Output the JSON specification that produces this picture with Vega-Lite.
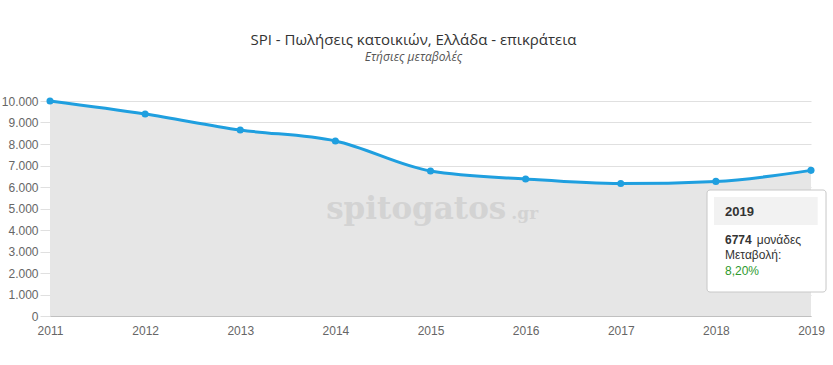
{
  "$schema": "https://vega.github.io/schema/vega-lite/v6.json",
  "width": 761,
  "height": 215,
  "autosize": {"type": "none"},
  "padding": {"left": 50, "top": 101, "right": 22, "bottom": 49},
  "background": "white",
  "config": {
    "locale": {"number": {"decimal": ",", "thousands": ".", "grouping": [3], "currency": ["", "€"]}},
    "view": {"stroke": null},
    "axis": {"labelFont": "Liberation Sans", "labelFontSize": 12, "labelColor": "#666666"}
  },
  "title": {
    "text": "SPI - Πωλήσεις κατοικιών, Ελλάδα - επικράτεια",
    "subtitle": "Ετήσιες μεταβολές",
    "font": "Open Sans",
    "fontSize": 15,
    "fontWeight": "normal",
    "color": "#333333",
    "subtitleFont": "Open Sans",
    "subtitleFontSize": 12,
    "subtitleFontStyle": "italic",
    "subtitleColor": "#555555",
    "subtitlePadding": 4,
    "anchor": "middle",
    "dx": -17,
    "offset": 32
  },
  "datasets": {
    "spi": [
      {"year": 2011, "value": 10000},
      {"year": 2012, "value": 9395},
      {"year": 2013, "value": 8651},
      {"year": 2014, "value": 8140},
      {"year": 2015, "value": 6744},
      {"year": 2016, "value": 6372},
      {"year": 2017, "value": 6160},
      {"year": 2018, "value": 6261},
      {"year": 2019, "value": 6774}
    ],
    "labels": [
      {"t": "spitogatos", "year": 2014.85, "value": 4512, "k": "wm"},
      {"t": ".gr", "year": 2015.85, "value": 4512, "k": "wm2"},
      {"t": "2019", "year": 2018.096, "value": 4837, "k": "head"},
      {"t": "6774", "year": 2018.096, "value": 3535, "k": "bold"},
      {"t": "μονάδες", "year": 2018.43, "value": 3535, "k": "norm"},
      {"t": "Μεταβολή:", "year": 2018.096, "value": 2837, "k": "norm"},
      {"t": "8,20%", "year": 2018.096, "value": 2093, "k": "green"}
    ],
    "boxes": [
      {"k": "box", "year": 2017.907, "year2": 2019.158, "value": 5860, "value2": 1116},
      {"k": "head", "year": 2017.98, "year2": 2019.07, "value": 5535, "value2": 4233}
    ]
  },
  "encoding": {
    "x": {
      "field": "year",
      "type": "quantitative",
      "scale": {"domain": [2011, 2019], "nice": false, "zero": false},
      "axis": {"values": [2011, 2012, 2013, 2014, 2015, 2016, 2017, 2018, 2019], "format": "d", "grid": false, "ticks": false, "labelPadding": 9, "domainColor": "#c0c0c0", "title": null, "labelFlush": false}
    },
    "y": {
      "field": "value",
      "type": "quantitative",
      "scale": {"domain": [0, 10000], "nice": false},
      "axis": {"values": [0, 1000, 2000, 3000, 4000, 5000, 6000, 7000, 8000, 9000, 10000], "format": ",d", "gridColor": "#e0e0e0", "tickColor": "#e0e0e0", "tickSize": 10, "labelPadding": 2, "domainColor": "#cccccc", "title": null, "labelOverlap": false}
    }
  },
  "layer": [
    {
      "data": {"name": "spi"},
      "mark": {"type": "area", "color": "#e6e6e6", "interpolate": "monotone", "opacity": 1}
    },
    {
      "data": {"name": "spi"},
      "mark": {"type": "line", "color": "#1f9fdf", "strokeWidth": 3, "interpolate": "monotone"}
    },
    {
      "data": {"name": "spi"},
      "mark": {"type": "point", "filled": true, "color": "#1f9fdf", "size": 50, "opacity": 1}
    },
    {
      "data": {"name": "labels"},
      "transform": [{"filter": "datum.k == 'wm'"}],
      "mark": {"type": "text", "font": "DejaVu Serif", "fontWeight": "bold", "fontSize": 31, "color": "#d3d3d3", "align": "center", "baseline": "alphabetic"},
      "encoding": {"text": {"field": "t"}}
    },
    {
      "data": {"name": "labels"},
      "transform": [{"filter": "datum.k == 'wm2'"}],
      "mark": {"type": "text", "font": "DejaVu Serif", "fontWeight": "bold", "fontSize": 17, "color": "#d3d3d3", "align": "left", "baseline": "alphabetic"},
      "encoding": {"text": {"field": "t"}}
    },
    {
      "data": {"name": "boxes"},
      "transform": [{"filter": "datum.k == 'box'"}],
      "mark": {"type": "rect", "fill": "white", "stroke": "#c8c8c8", "strokeWidth": 1, "cornerRadius": 3},
      "encoding": {"x2": {"field": "year2"}, "y2": {"field": "value2"}}
    },
    {
      "data": {"name": "boxes"},
      "transform": [{"filter": "datum.k == 'head'"}],
      "mark": {"type": "rect", "fill": "#f2f2f2"},
      "encoding": {"x2": {"field": "year2"}, "y2": {"field": "value2"}}
    },
    {
      "data": {"name": "labels"},
      "transform": [{"filter": "datum.k == 'head'"}],
      "mark": {"type": "text", "font": "Liberation Sans", "fontWeight": "bold", "fontSize": 13, "color": "#333333", "align": "left", "baseline": "middle"},
      "encoding": {"text": {"field": "t"}}
    },
    {
      "data": {"name": "labels"},
      "transform": [{"filter": "datum.k == 'bold'"}],
      "mark": {"type": "text", "font": "Liberation Sans", "fontWeight": "bold", "fontSize": 12, "color": "#333333", "align": "left", "baseline": "middle"},
      "encoding": {"text": {"field": "t"}}
    },
    {
      "data": {"name": "labels"},
      "transform": [{"filter": "datum.k == 'norm'"}],
      "mark": {"type": "text", "font": "Liberation Sans", "fontSize": 12, "color": "#333333", "align": "left", "baseline": "middle"},
      "encoding": {"text": {"field": "t"}}
    },
    {
      "data": {"name": "labels"},
      "transform": [{"filter": "datum.k == 'green'"}],
      "mark": {"type": "text", "font": "Liberation Sans", "fontSize": 12, "color": "#2e9a2e", "align": "left", "baseline": "middle"},
      "encoding": {"text": {"field": "t"}}
    }
  ]
}
